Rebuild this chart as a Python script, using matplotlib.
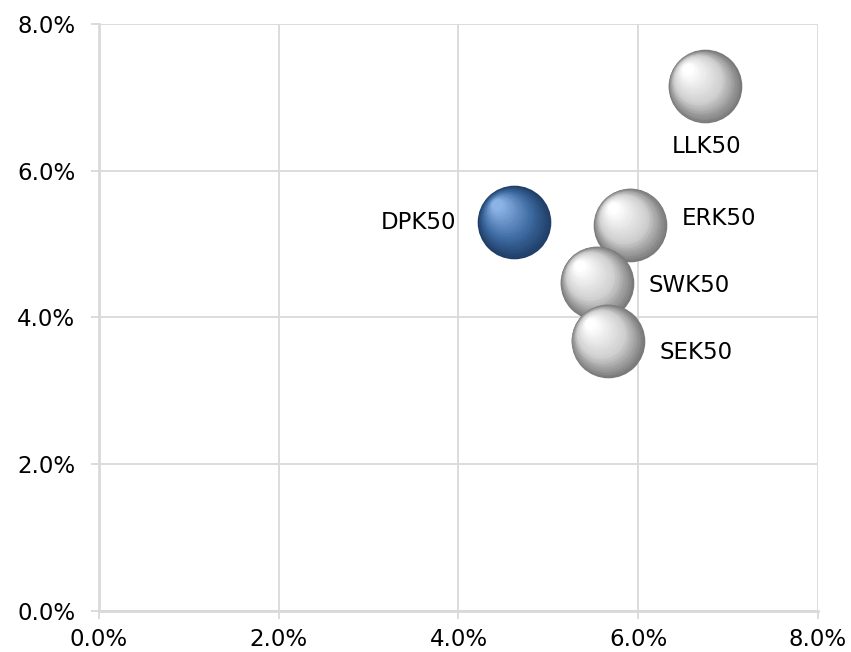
import matplotlib
matplotlib.use('Agg')
import matplotlib.pyplot as plt
import matplotlib.transforms as mtransforms
import numpy as np
from matplotlib.colors import to_rgb

# data (percent)
names = ['LLK50', 'DPK50', 'ERK50', 'SWK50', 'SEK50']
x_vals = [6.74, 4.62, 5.91, 5.54, 5.66]
y_vals = [7.15, 5.30, 5.26, 4.47, 3.68]
highlight = [False, True, False, False, False]
label_pos = ['below', 'left', 'right', 'right', 'right']
label_dy = [-43, 0, 5, -2, -8]   # vertical nudge of labels, points

ticks = [0, 2, 4, 6, 8]
tick_labels = ['0.0%', '2.0%', '4.0%', '6.0%', '8.0%']

fig = plt.figure(figsize=(8.51, 6.52), dpi=100)
ax = fig.add_axes([0.1163, 0.0629, 0.8449, 0.9003])

grid_c = '#d9d9d9'
ax.set_xlim(0, 8)
ax.set_ylim(0, 8)
ax.set_xticks(ticks)
ax.set_yticks(ticks)
ax.set_xticklabels(tick_labels)
ax.set_yticklabels(tick_labels)
ax.grid(True, color=grid_c, linewidth=1.3)
ax.set_axisbelow(True)
for s in ['top', 'right']:
    ax.spines[s].set_visible(False)
for s in ['left', 'bottom']:
    ax.spines[s].set_color(grid_c)
    ax.spines[s].set_linewidth(2)
ax.tick_params(colors=grid_c, labelcolor='black', labelsize=16.5, length=6, width=1.3)
ax.tick_params(axis='x', pad=6)
ax.tick_params(axis='y', pad=11)


def draw_sphere(x, y, edge, mid, light, diam=53):
    # fake 3D shading with stacked circles
    n = 30
    edge, mid, light = np.array(to_rgb(edge)), np.array(to_rgb(mid)), np.array(to_rgb(light))
    for i in range(n):
        t = i / (n - 1)
        d = diam * (1 - 0.85 * t)
        off = (diam / 2 - d / 2) * 0.55
        if t < 0.4:
            c = edge + (mid - edge) * (t / 0.4)
        else:
            c = mid + (light - mid) * ((t - 0.4) / 0.6)
        tr = mtransforms.offset_copy(ax.transData, fig=fig, x=-off, y=off, units='points')
        ax.scatter([x], [y], s=d ** 2, color=c, transform=tr, zorder=3, linewidths=0)


for xv, yv, hl in zip(x_vals, y_vals, highlight):
    if hl:
        draw_sphere(xv, yv, '#1f3d66', '#3d6aa0', '#8cb3e6')
    else:
        draw_sphere(xv, yv, '#7a7a7a', '#cfcfcf', '#ffffff')

for name, xv, yv, pos, dy in zip(names, x_vals, y_vals, label_pos, label_dy):
    if pos == 'below':
        ax.annotate(name, (xv, yv), xytext=(1, dy), textcoords='offset points',
                    ha='center', va='center', fontsize=16.5, zorder=5)
    elif pos == 'left':
        ax.annotate(name, (xv, yv), xytext=(-42, dy), textcoords='offset points',
                    ha='right', va='center', fontsize=16.5, zorder=5)
    else:
        ax.annotate(name, (xv, yv), xytext=(37, dy), textcoords='offset points',
                    ha='left', va='center', fontsize=16.5, zorder=5)

plt.savefig('out.png', dpi=100)
